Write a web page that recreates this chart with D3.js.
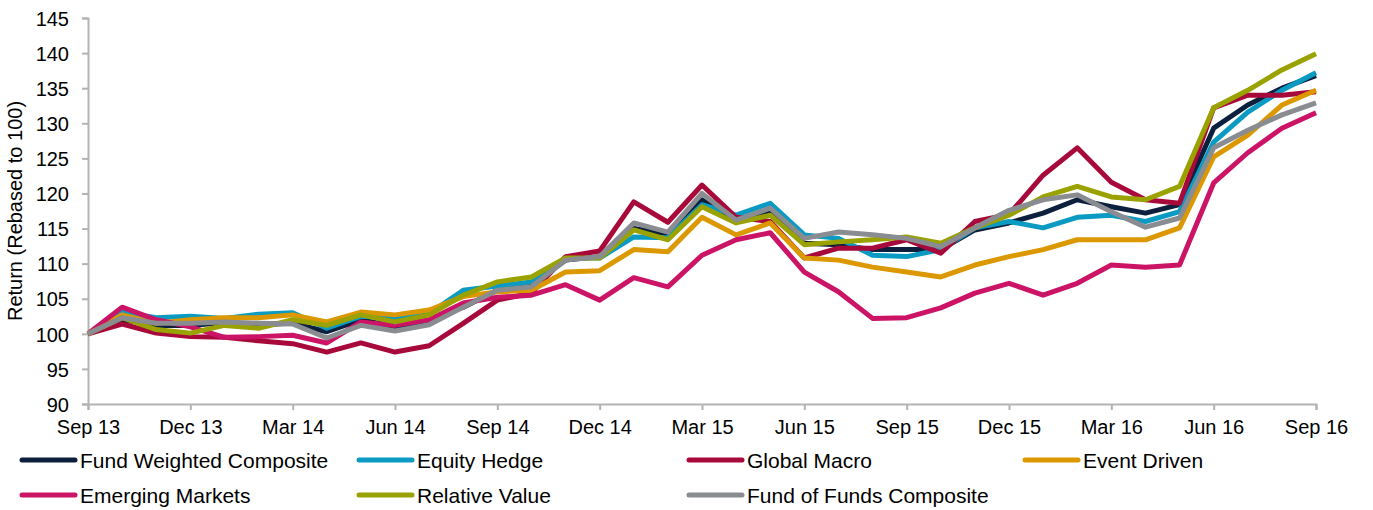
<!DOCTYPE html>
<html>
<meta charset="utf-8">
<title>Hedge fund returns rebased</title>
<script src="https://d3js.org/d3.v7.min.js"></script>
<style>
body { margin: 0; background: #fff; }
text { font-family: "Liberation Sans", Arial, sans-serif; fill: #000; }
.axis path, .axis line { stroke: #b3b3b3; stroke-width: 2; }
.axis text { font-size: 20px; }
.series { fill: none; stroke-width: 5; stroke-linejoin: round; stroke-linecap: butt; }
.legend text { font-size: 21px; }
</style>
<body>
<svg width="1373" height="510"></svg>
<script>
// month labels on the axis (every third month)
var tickLabels = ["Sep 13", "Dec 13", "Mar 14", "Jun 14", "Sep 14", "Dec 14", "Mar 15",
  "Jun 15", "Sep 15", "Dec 15", "Mar 16", "Jun 16", "Sep 16"];

var seriesNames = ["Fund Weighted Composite", "Equity Hedge", "Global Macro", "Event Driven",
  "Emerging Markets", "Relative Value", "Fund of Funds Composite"];

var colors = ["#0c1f3c", "#0a9ac2", "#a8093b", "#dc9800", "#cc1467", "#9aa200", "#898c90"];

// monthly values, Sep 13 .. Sep 16 (37 points)
var fundWeighted = [100, 102.0, 101.2, 101.2, 101.6, 101.3, 101.5, 100.3, 102.0, 101.0, 101.8, 103.8, 106.2,
  107.0, 110.5, 111.0, 115.0, 114.2, 119.1, 116.0, 117.4, 112.9, 112.7, 112.0, 112.0, 112.0, 114.8,
  115.8, 117.2, 119.1, 118.1, 117.2, 118.4, 129.3, 132.6, 135.0, 136.8];
var equityHedge = [100, 103.1, 102.3, 102.5, 102.2, 102.8, 103.0, 100.8, 102.5, 102.2, 102.9, 106.2, 106.8,
  107.4, 110.8, 110.8, 113.8, 113.7, 118.4, 116.9, 118.6, 114.1, 113.6, 111.2, 111.0, 112.0, 115.1,
  116.0, 115.1, 116.6, 116.9, 116.0, 117.4, 127.3, 131.6, 134.7, 137.2];
var globalMacro = [100, 101.4, 100.1, 99.6, 99.5, 99.0, 98.6, 97.4, 98.7, 97.4, 98.3, 101.5, 104.8,
  105.8, 111.0, 111.8, 118.8, 115.9, 121.2, 116.6, 116.0, 110.8, 112.2, 112.2, 113.4, 111.5, 116.0,
  117.0, 122.6, 126.5, 121.6, 119.1, 118.6, 132.2, 134.0, 134.0, 134.5];
var eventDriven = [100, 102.7, 101.5, 102.0, 102.3, 102.3, 102.7, 101.7, 103.1, 102.7, 103.4, 105.3, 106.0,
  106.2, 108.8, 109.0, 112.0, 111.7, 116.6, 114.1, 115.8, 110.8, 110.5, 109.5, 108.8, 108.1, 109.8,
  111.0, 112.0, 113.4, 113.4, 113.4, 115.1, 125.2, 128.3, 132.6, 134.7];
var emergingMarkets = [100, 103.8, 102.0, 101.0, 99.5, 99.6, 99.8, 98.7, 101.7, 101.2, 102.0, 104.4, 105.2,
  105.5, 107.0, 104.8, 108.0, 106.7, 111.2, 113.4, 114.4, 108.8, 106.0, 102.2, 102.3, 103.7, 105.8,
  107.2, 105.5, 107.2, 109.8, 109.5, 109.8, 121.5, 125.8, 129.3, 131.5];
var relativeValue = [100, 102.3, 100.6, 100.1, 101.2, 100.8, 102.0, 101.2, 102.7, 101.7, 102.7, 105.5, 107.4,
  108.1, 110.8, 110.8, 114.8, 113.4, 118.1, 115.8, 116.9, 112.7, 113.1, 113.4, 113.8, 112.9, 115.1,
  116.9, 119.5, 121.0, 119.5, 119.1, 121.0, 132.2, 134.7, 137.6, 139.9];
var fundOfFunds = [100, 102.3, 101.5, 101.5, 101.7, 101.5, 101.4, 99.4, 101.2, 100.4, 101.3, 103.8, 106.2,
  106.7, 110.5, 111.0, 115.8, 114.5, 120.0, 116.2, 117.9, 113.6, 114.5, 114.1, 113.6, 112.4, 115.1,
  117.6, 119.1, 119.8, 117.4, 115.2, 116.5, 126.5, 129.0, 131.2, 132.9];

var allSeries = [fundWeighted, equityHedge, globalMacro, eventDriven, emergingMarkets, relativeValue, fundOfFunds];

var svg = d3.select("svg"),
  margin = {top: 18, right: 57, bottom: 106, left: 88},
  width = +svg.attr("width") - margin.left - margin.right,
  height = +svg.attr("height") - margin.top - margin.bottom;

var x = d3.scaleLinear().domain([0, fundWeighted.length - 1]).range([0, width]);
var y = d3.scaleLinear().domain([90, 145]).range([height, 0]);

var g = svg.append("g").attr("transform", "translate(" + margin.left + "," + margin.top + ")");

g.append("g")
  .attr("class", "axis axis--x")
  .attr("transform", "translate(0," + height + ")")
  .call(d3.axisBottom(x)
    .tickValues(d3.range(0, fundWeighted.length, 3))
    .tickSize(6).tickSizeOuter(6)
    .tickFormat(function(d) { return tickLabels[d / 3]; }))
  .selectAll("text").attr("dy", "1.05em");

g.append("g")
  .attr("class", "axis axis--y")
  .call(d3.axisLeft(y).tickValues(d3.range(90, 146, 5)).tickSize(6).tickSizeOuter(6).tickPadding(13))
  .selectAll("text").attr("dy", "0.36em");

g.selectAll(".axis .domain").attr("stroke", "#b3b3b3");
g.selectAll(".axis text").attr("fill", "#000");

svg.append("text")
  .attr("transform", "translate(22," + (margin.top + height / 2) + ") rotate(-90)")
  .attr("text-anchor", "middle")
  .style("font-size", "20px")
  .text("Return (Rebased to 100)");

var line = d3.line()
  .x(function(d, i) { return x(i); })
  .y(function(d) { return y(d); });

g.selectAll(".series")
  .data(allSeries)
  .enter().append("path")
  .attr("class", "series")
  .attr("stroke", function(d, i) { return colors[i]; })
  .attr("d", line);

// legend: 4 columns, 2 rows
var legendCols = [20, 357, 687, 1023];
var legend = svg.append("g").attr("class", "legend")
  .selectAll("g")
  .data(seriesNames)
  .enter().append("g")
  .attr("transform", function(d, i) {
    return "translate(" + legendCols[i % 4] + "," + (460 + 35 * Math.floor(i / 4)) + ")";
  });

legend.append("line")
  .attr("x1", 2).attr("x2", 55)
  .attr("stroke", function(d, i) { return colors[i]; })
  .attr("stroke-width", 5)
  .attr("stroke-linecap", "round");

legend.append("text")
  .attr("x", 60)
  .attr("dy", "0.36em")
  .text(function(d) { return d; });
</script>
</body>
</html>
